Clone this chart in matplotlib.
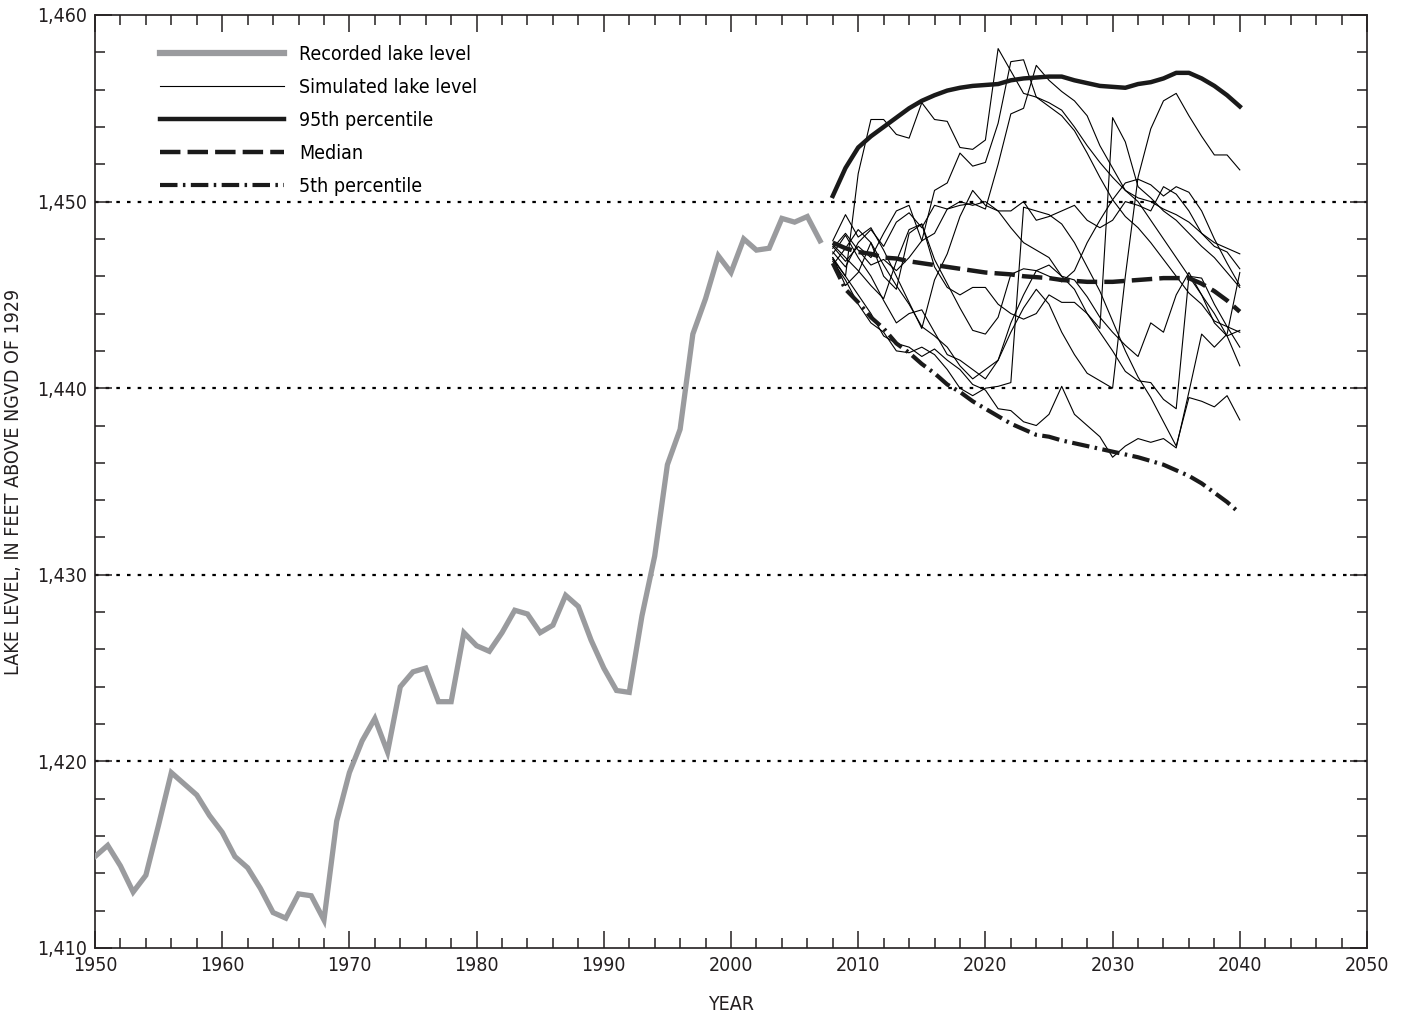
import matplotlib
matplotlib.use('Agg')
from matplotlib import pyplot as plt
from matplotlib.ticker import MultipleLocator, FuncFormatter
import numpy as np

plt.rcParams['font.family'] = ['DejaVu Sans']
plt.rcParams['font.stretch'] = 'condensed'

# recorded lake level, 1950-2007
rec_years = list(range(1950, 2008))
rec_level = [1414.9, 1415.5, 1414.4, 1413.0, 1413.9, 1416.6, 1419.4, 1418.8, 1418.2, 1417.1,
             1416.2, 1414.9, 1414.3, 1413.2, 1411.9, 1411.6, 1412.9, 1412.8, 1411.5, 1416.8,
             1419.4, 1421.1, 1422.3, 1420.5, 1424.0, 1424.8, 1425.0, 1423.2, 1423.2, 1426.9,
             1426.2, 1425.9, 1426.9, 1428.1, 1427.9, 1426.9, 1427.3, 1428.9, 1428.3, 1426.5,
             1425.0, 1423.8, 1423.7, 1427.8, 1431.0, 1435.9, 1437.8, 1442.9, 1444.8, 1447.1,
             1446.2, 1448.0, 1447.4, 1447.5, 1449.1, 1448.9, 1449.2, 1447.9]

# simulated lake level, 2008-2040
sim_years = list(range(2008, 2041))
sim_runs = [
    [1447.0, 1446.0, 1451.5, 1454.4, 1454.4, 1453.6, 1453.4, 1455.3, 1454.4, 1454.3, 1452.9,
     1452.8, 1453.3, 1458.2, 1457.0, 1455.8, 1455.6, 1455.3, 1454.9, 1454.0, 1453.0, 1452.1,
     1451.3, 1450.6, 1450.2, 1450.0, 1449.6, 1449.3, 1448.9, 1448.3, 1447.8, 1447.5, 1447.2],
    [1447.5, 1448.3, 1447.4, 1446.6, 1446.9, 1446.3, 1447.0, 1447.9, 1450.6, 1451.0, 1452.6,
     1451.9, 1452.1, 1454.2, 1457.5, 1457.6, 1455.6, 1455.1, 1454.6, 1453.8, 1452.6, 1451.3,
     1450.1, 1449.2, 1448.6, 1447.8, 1446.9, 1446.0, 1445.1, 1444.5, 1443.6, 1443.3, 1443.0],
    [1447.3, 1446.5, 1447.8, 1448.5, 1447.6, 1448.9, 1449.4, 1448.6, 1449.8, 1449.6, 1449.8,
     1449.9, 1449.6, 1452.0, 1454.7, 1455.0, 1457.3, 1456.5, 1455.9, 1455.4, 1454.6, 1453.0,
     1451.8, 1450.6, 1450.0, 1449.0, 1448.0, 1447.0, 1446.0, 1445.0, 1444.0, 1442.8, 1441.2],
    [1447.0, 1445.5, 1446.2, 1447.8, 1446.0, 1445.3, 1448.3, 1448.8, 1446.5, 1445.4, 1445.0,
     1445.4, 1445.4, 1444.5, 1444.0, 1443.7, 1444.0, 1445.0, 1444.6, 1444.6, 1444.0, 1443.2,
     1454.5, 1453.2, 1450.8, 1450.2, 1449.5, 1449.0, 1448.3, 1447.6, 1447.0, 1446.2, 1445.4],
    [1446.6, 1447.5, 1448.5, 1447.8, 1446.6, 1445.5, 1444.5, 1443.3, 1442.8, 1442.2, 1441.2,
     1440.5, 1441.0, 1441.5, 1443.0, 1444.3, 1445.3, 1444.5, 1443.0, 1441.8, 1440.8, 1440.4,
     1440.0, 1446.0, 1451.3, 1453.9, 1455.4, 1455.8, 1454.6, 1453.5, 1452.5, 1452.5, 1451.7],
    [1446.9, 1446.0, 1445.0, 1444.0, 1442.8, 1442.4, 1442.2, 1441.7, 1442.1, 1441.5, 1441.0,
     1440.2, 1439.9, 1438.9, 1438.8, 1438.2, 1438.0, 1438.6, 1440.1, 1438.6, 1438.0, 1437.4,
     1436.3, 1436.9, 1437.3, 1437.1, 1437.3, 1436.8, 1439.8, 1442.9, 1442.2, 1442.9, 1446.2],
    [1446.8, 1445.8, 1444.5, 1443.5, 1443.0, 1442.0, 1441.9, 1442.2, 1441.8, 1441.0, 1440.0,
     1439.6, 1440.0, 1440.1, 1440.3, 1449.7, 1449.5, 1449.3, 1448.8, 1447.8, 1446.5, 1445.2,
     1443.6, 1442.0, 1440.6, 1439.5, 1438.2, 1436.9, 1439.5, 1439.3, 1439.0, 1439.6, 1438.3],
    [1447.7, 1447.0, 1446.3, 1445.5, 1444.8, 1446.8, 1448.5, 1448.8, 1446.9, 1445.6, 1444.3,
     1443.1, 1442.9, 1443.8, 1446.1, 1446.4, 1446.3, 1446.6, 1446.0, 1445.8, 1444.9, 1443.8,
     1443.0, 1442.3, 1441.7, 1443.5, 1443.0, 1445.0, 1446.2, 1445.0, 1443.5, 1442.8, 1443.1],
    [1447.9, 1449.3, 1448.1, 1448.6, 1447.4, 1446.0, 1444.6, 1443.2, 1445.8, 1447.2, 1449.2,
     1450.6, 1449.8, 1449.5, 1449.5, 1450.0, 1449.0, 1449.2, 1449.5, 1449.8, 1449.0, 1448.6,
     1449.0, 1450.0, 1449.8, 1449.5, 1450.8, 1450.4, 1449.5, 1448.3, 1447.6, 1447.3, 1446.4],
    [1447.6, 1446.8, 1447.6, 1447.0, 1448.3, 1449.5, 1449.8, 1447.9, 1448.3, 1449.6, 1450.0,
     1449.8, 1450.0, 1449.5, 1448.6, 1447.8, 1447.4, 1447.0, 1446.0, 1445.3, 1444.0, 1443.0,
     1442.0, 1440.9, 1440.4, 1440.3, 1439.4, 1438.9, 1446.0, 1445.9, 1444.5, 1443.3, 1442.2],
    [1447.2, 1448.2, 1447.0, 1446.0, 1444.7, 1443.5, 1444.0, 1444.2, 1443.0, 1441.8, 1441.5,
     1441.0, 1440.5, 1441.5, 1443.5, 1445.0, 1446.3, 1446.0, 1445.7, 1446.3, 1447.8, 1449.0,
     1450.1, 1451.0, 1451.2, 1450.9, 1450.3, 1450.8, 1450.5, 1449.5, 1448.0, 1446.7, 1445.5],
]

p95 = [1450.3, 1451.8, 1452.9, 1453.5, 1454.0, 1454.5, 1455.0, 1455.4, 1455.7, 1455.95, 1456.1,
       1456.2, 1456.25, 1456.3, 1456.5, 1456.6, 1456.65, 1456.7, 1456.7, 1456.5, 1456.35, 1456.2,
       1456.15, 1456.1, 1456.3, 1456.4, 1456.6, 1456.9, 1456.9, 1456.6, 1456.2, 1455.7, 1455.1]
median = [1447.8, 1447.5, 1447.3, 1447.2, 1447.0, 1446.95, 1446.8, 1446.7, 1446.6, 1446.5, 1446.4,
          1446.3, 1446.2, 1446.15, 1446.1, 1446.0, 1445.95, 1445.9, 1445.8, 1445.75, 1445.7, 1445.7,
          1445.7, 1445.75, 1445.8, 1445.85, 1445.9, 1445.9, 1445.9, 1445.6, 1445.2, 1444.7, 1444.1]
p5 = [1446.7, 1445.3, 1444.6, 1443.8, 1443.2, 1442.4, 1441.9, 1441.3, 1440.8, 1440.2, 1439.8,
      1439.3, 1438.9, 1438.5, 1438.1, 1437.8, 1437.5, 1437.4, 1437.2, 1437.05, 1436.9, 1436.75,
      1436.6, 1436.45, 1436.3, 1436.1, 1435.9, 1435.6, 1435.3, 1434.9, 1434.4, 1433.9, 1433.3]

fig = plt.figure(figsize=(14.05, 10.18), dpi=100)
ax = fig.add_axes([95 / 1405, 70 / 1018, 1272 / 1405, 933 / 1018])

for lvl in [1420, 1430, 1440, 1450]:
    ax.axhline(lvl, color='black', lw=1.6, linestyle=(0, (1.6, 3.2)), zorder=1)

ax.plot(rec_years, rec_level, color='#9a9b9e', lw=3.8, solid_joinstyle='miter',
        label='Recorded lake level', zorder=3)
for i, run in enumerate(sim_runs):
    ax.plot(sim_years, run, color='black', lw=0.8,
            label='Simulated lake level' if i == 0 else None, zorder=2)
ax.plot(sim_years, p95, color='#1a1a1a', lw=3.2, label='95th percentile', zorder=4)
ax.plot(sim_years, median, color='#1a1a1a', lw=3.2, linestyle=(0, (4.6, 1.6)),
        label='Median', zorder=4)
ax.plot(sim_years, p5, color='#1a1a1a', lw=3.0, linestyle=(0, (4.2, 1.3, 0.6, 1.3)),
        label='5th percentile', zorder=4)

ax.set_xlim(1950, 2050)
ax.set_ylim(1410, 1460)
ax.xaxis.set_major_locator(MultipleLocator(10))
ax.xaxis.set_minor_locator(MultipleLocator(2))
ax.yaxis.set_major_locator(MultipleLocator(10))
ax.yaxis.set_minor_locator(MultipleLocator(2))
ax.yaxis.set_major_formatter(FuncFormatter(lambda v, p: f'{int(v):,}'))
ax.tick_params(which='both', direction='in', top=True, right=True, labelsize=14,
               width=1.1, colors='#231f20')
ax.tick_params(which='major', length=12, pad=6)
ax.tick_params(which='minor', length=7)
for s in ax.spines.values():
    s.set_linewidth(1.2)
    s.set_color('#231f20')

ax.set_xlabel('YEAR', fontsize=14, labelpad=14, color='#231f20')
ax.set_ylabel('LAKE LEVEL, IN FEET ABOVE NGVD OF 1929', fontsize=14, labelpad=10, color='#231f20')

leg = ax.legend(loc='upper left', bbox_to_anchor=(0.051, 0.968), frameon=False, fontsize=14,
                handlelength=6.4, handletextpad=0.75, labelspacing=0.72, borderpad=0,
                borderaxespad=0)
leg.get_lines()[0].set_linewidth(4.5)

fig.savefig('out.png', dpi=100)
